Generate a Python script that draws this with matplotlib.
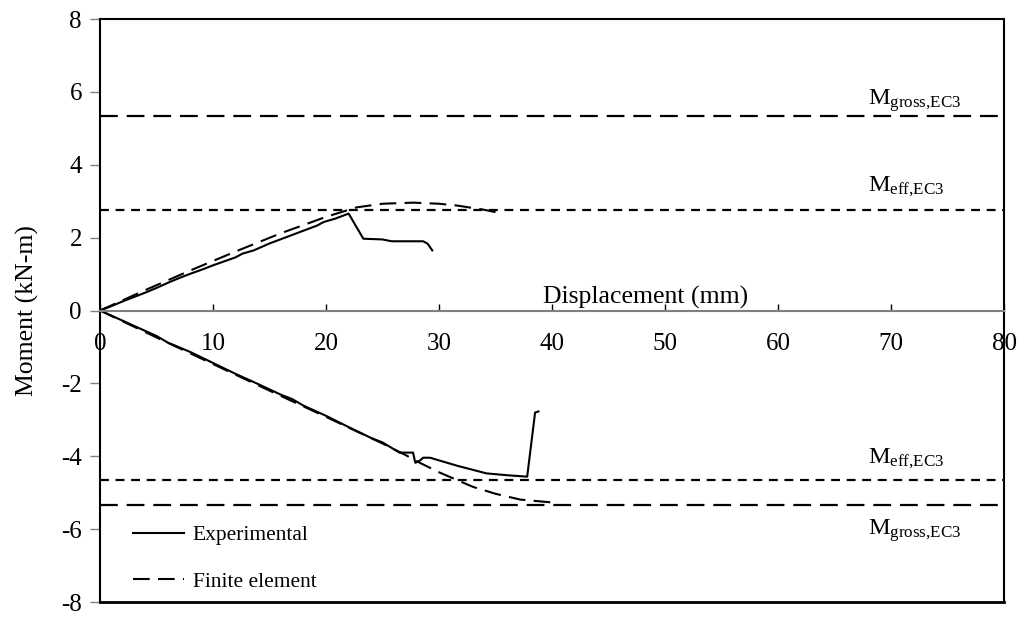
import matplotlib
matplotlib.use("Agg")
import matplotlib.pyplot as plt

plt.rcParams["font.family"] = ["Liberation Serif", "DejaVu Serif"]
plt.rcParams["mathtext.fontset"] = "custom"
plt.rcParams["mathtext.rm"] = "Liberation Serif"
plt.rcParams["mathtext.it"] = "Liberation Serif:italic"
plt.rcParams["axes.unicode_minus"] = False

# ---- data ----
# positive bending
exp_pos_x = [0, 1, 2, 3, 4, 5, 6, 7, 8, 9, 10, 11, 12, 12.6, 13.6, 15, 16.8,
             18, 19.2, 19.8, 20.8, 22.0, 23.3, 25.0, 25.8, 28.6, 29.0, 29.4]
exp_pos_y = [0, 0.12, 0.25, 0.37, 0.49, 0.62, 0.76, 0.89, 1.01, 1.12, 1.24,
             1.35, 1.46, 1.56, 1.65, 1.84, 2.05, 2.19, 2.33, 2.43, 2.52, 2.66,
             1.97, 1.95, 1.90, 1.90, 1.83, 1.65]
fe_pos_x = [0, 4, 8, 12, 16, 20, 22.7, 25, 27.7, 30, 31.6, 33.9, 35]
fe_pos_y = [0, 0.56, 1.10, 1.62, 2.12, 2.57, 2.83, 2.93, 2.96, 2.93, 2.88,
            2.77, 2.70]

# negative bending
exp_neg_x = [0, 2, 4, 5, 6, 8, 10, 12, 14, 16, 17, 18, 20, 22, 24, 25,
             26.5, 27.7, 27.9, 28.3, 28.6, 29.2, 31.6, 34.2, 36, 37.8, 38.5, 38.8]
exp_neg_y = [0, -0.28, -0.56, -0.70, -0.88, -1.14, -1.44, -1.74, -2.02, -2.31,
             -2.43, -2.61, -2.89, -3.20, -3.50, -3.62, -3.90, -3.90, -4.18,
             -4.12, -4.04, -4.04, -4.26, -4.47, -4.52, -4.56, -2.80, -2.77]
fe_neg_x = [0, 5, 10, 15, 20, 25, 27, 28.3, 30, 31.2, 33, 35, 37.2, 40.1]
fe_neg_y = [0, -0.74, -1.47, -2.20, -2.92, -3.65, -3.96, -4.18, -4.44,
            -4.60, -4.84, -5.03, -5.19, -5.27]

# design moments (EC3)
m_gross = [5.33, -5.33]
m_eff = [2.75, -4.65]

x_ticks = [0, 10, 20, 30, 40, 50, 60, 70, 80]
y_ticks = [-8, -6, -4, -2, 0, 2, 4, 6, 8]

fig = plt.figure(figsize=(10.24, 6.17), dpi=100)
ax = fig.add_axes([0.0977, 0.0243, 0.8828, 0.9449])

ax.plot(exp_pos_x, exp_pos_y, color="black", lw=1.5, label="Experimental")
ax.plot(fe_pos_x, fe_pos_y, color="black", lw=1.5, dashes=(8, 4),
        label="Finite element")
ax.plot(exp_neg_x, exp_neg_y, color="black", lw=1.5)
ax.plot(fe_neg_x, fe_neg_y, color="black", lw=1.5, dashes=(8, 4))

for v in m_gross:
    ax.axhline(v, color="black", lw=1.6, dashes=(8, 4))
for v in m_eff:
    ax.axhline(v, color="black", lw=1.6, dashes=(4, 3))

lbl_kw = dict(ha="left", va="baseline", fontsize=17.5)
ax.text(68.0, 5.66, r"M$_{\mathrm{gross{,}EC3}}$", **lbl_kw)
ax.text(68.0, 3.27, r"M$_{\mathrm{eff{,}EC3}}$", **lbl_kw)
ax.text(68.0, -4.20, r"M$_{\mathrm{eff{,}EC3}}$", **lbl_kw)
ax.text(68.0, -6.15, r"M$_{\mathrm{gross{,}EC3}}$", **lbl_kw)

ax.set_xlim(0, 80)
ax.set_ylim(-8, 8)
ax.set_xticks(x_ticks)
ax.set_yticks(y_ticks)
ax.tick_params(axis="both", labelsize=18)
ax.tick_params(axis="x", direction="in", length=5, width=1, color="black",
               pad=16)
ax.tick_params(axis="y", direction="out", length=7, width=1, color="#808080",
               pad=6)

# x axis runs through zero, box closed around the plot
ax.spines["bottom"].set_position(("data", 0))
ax.spines["bottom"].set_color("#808080")
ax.spines["bottom"].set_linewidth(1.5)
ax.spines["left"].set_linewidth(1.5)
ax.spines["right"].set_linewidth(1.5)
ax.spines["top"].set_linewidth(1.5)
ax.axhline(-8, color="black", lw=2.0, clip_on=False)

ax.text(48.3, 0.2, "Displacement (mm)", ha="center", va="baseline",
        fontsize=18.5)
ax.set_ylabel("Moment (kN-m)", fontsize=18.5, labelpad=16)

ax.legend(loc="upper left", bbox_to_anchor=(0.036, 0.132), frameon=False,
          fontsize=15.5, handlelength=2.4, handletextpad=0.4,
          labelspacing=1.23, borderpad=0, borderaxespad=0)

fig.savefig("out.png", dpi=100, facecolor="white")
